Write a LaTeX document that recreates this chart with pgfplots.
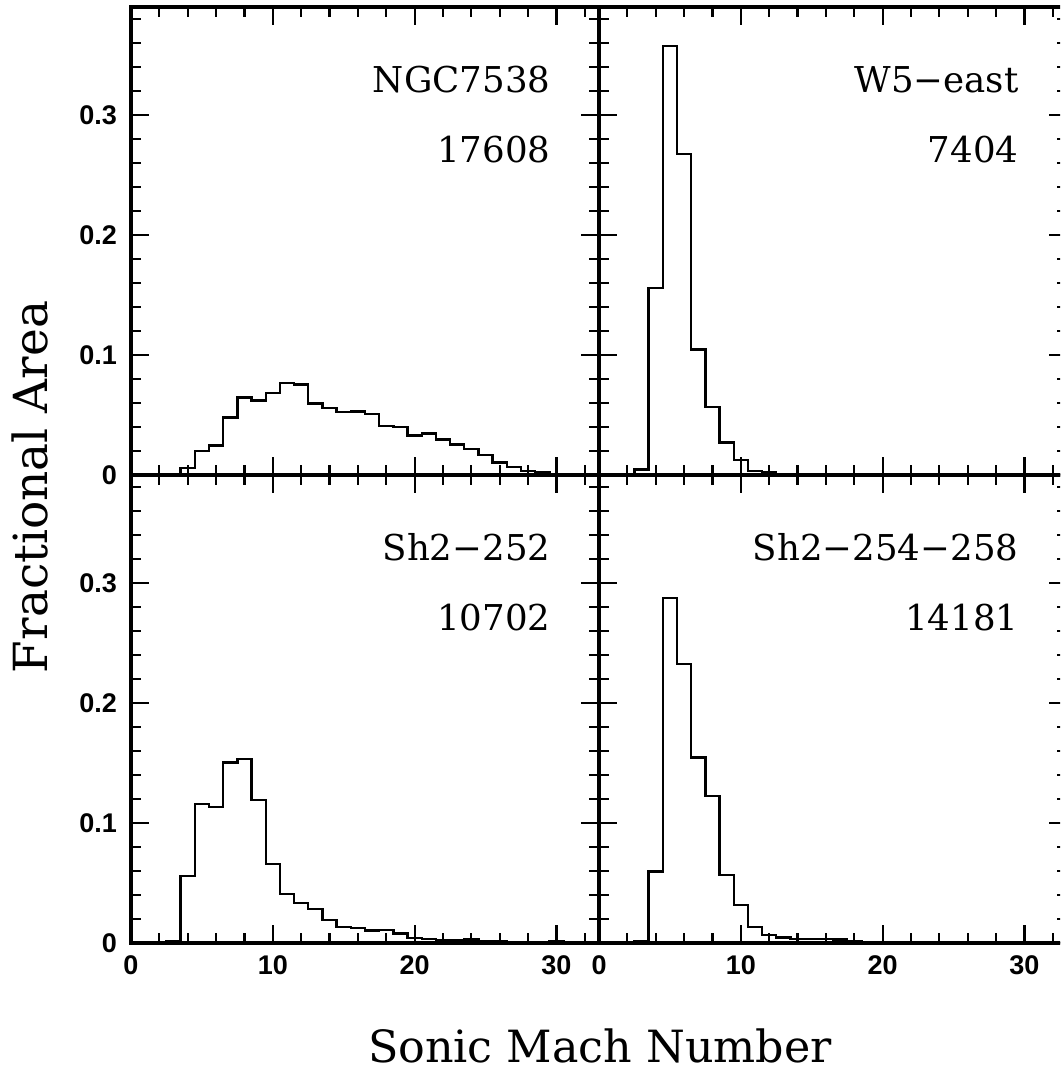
\documentclass[border=0pt]{standalone}
\usepackage{fontspec}
\setmainfont{DejaVu Serif}
\newfontfamily\tickfont{Liberation Sans}
\usepackage{pgfplots}
\pgfplotsset{compat=1.18}

\pgfplotsset{
  panel/.style={
    scale only axis, width=234pt, height=234pt,
    xmin=0, xmax=33, ymin=0, ymax=0.39,
    xtick={0,10,20,30}, minor xtick={2,4,6,8,12,14,16,18,22,24,26,28,32},
    ytick={0,0.1,0.2,0.3},
    minor ytick={0.02,0.04,0.06,0.08,0.12,0.14,0.16,0.18,0.22,0.24,0.26,0.28,0.32,0.34,0.36,0.38},
    tick align=inside, major tick length=9pt, minor tick length=5pt,
    every tick/.style={black, line width=1.1pt},
    axis line style={line width=1.6pt},
    tick label style={font=\tickfont\bfseries\fontsize{13.5}{15}\selectfont},
    /pgf/number format/assume math mode=true,
    xticklabel style={yshift=-3pt},
    yticklabel style={xshift=-3.5pt},
    anchor=south west,
  },
  hist/.style={const plot, black, line width=1.15pt, mark=none},
}
\tikzset{lab/.style={anchor=base east, inner sep=0pt, font=\fontsize{17.8}{20}\selectfont}}

\begin{document}
\begin{tikzpicture}
\useasboundingbox (0,0) rectangle (530pt,535pt);
\clip (0,0) rectangle (530pt,535pt);

% top left: NGC7538
\begin{axis}[panel, at={(65.5pt,297.5pt)}, xticklabels={}]
\addplot[hist] coordinates {
(2.5,0) (3.5,0.0056) (4.5,0.020) (5.5,0.0247) (6.5,0.048) (7.5,0.0647)
(8.5,0.062) (9.5,0.0683) (10.5,0.0764) (11.5,0.0753) (12.5,0.0597)
(13.5,0.0556) (14.5,0.0525) (15.5,0.0528) (16.5,0.0508) (17.5,0.0408)
(18.5,0.040) (19.5,0.0328) (20.5,0.0347) (21.5,0.0297) (22.5,0.0253)
(23.5,0.0214) (24.5,0.0164) (25.5,0.0103) (26.5,0.0069) (27.5,0.0033)
(28.5,0.002) (29.5,0.001) (30.5,0.0005) (31.5,0.0003) (32.5,0.0002) (33,0.0002)};
\node[lab] at (axis cs:29.6,0.319) {NGC7538};
\node[lab] at (axis cs:29.6,0.26) {17608};
\end{axis}

% top right: W5-east
\begin{axis}[panel, at={(299.5pt,297.5pt)}, xticklabels={}, yticklabels={}]
\addplot[hist] coordinates {
(1.5,0) (2.5,0.0047) (3.5,0.1556) (4.5,0.3575) (5.5,0.2675) (6.5,0.1047)
(7.5,0.0564) (8.5,0.0272) (9.5,0.0125) (10.5,0.0033) (11.5,0.0022)
(12.5,0.001) (13.5,0.0007) (14.5,0.0005) (15.5,0.0004) (16.5,0.0003)
(17.5,0.0002) (18.5,0.0002) (19.5,0.0001) (20.5,0.0001) (33,0.0001)};
\node[lab] at (axis cs:29.6,0.319) {W5−east};
\node[lab] at (axis cs:29.6,0.26) {7404};
\end{axis}

% bottom left: Sh2-252
\begin{axis}[panel, at={(65.5pt,63.5pt)}]
\addplot[hist] coordinates {
(1.5,0) (2.5,0.0017) (3.5,0.0561) (4.5,0.1156) (5.5,0.1136) (6.5,0.1503)
(7.5,0.1533) (8.5,0.1192) (9.5,0.0658) (10.5,0.0408) (11.5,0.0331)
(12.5,0.0283) (13.5,0.0194) (14.5,0.0133) (15.5,0.0125) (16.5,0.0103)
(17.5,0.0108) (18.5,0.0078) (19.5,0.0042) (20.5,0.0033) (21.5,0.0025)
(22.5,0.0025) (23.5,0.003) (24.5,0.0017) (25.5,0.0012) (26.5,0.001)
(27.5,0.0008) (28.5,0.0008) (29.5,0.0012) (30.5,0.0008) (31.5,0.0005) (32.5,0.0004) (33,0.0004)};
\node[lab] at (axis cs:29.6,0.319) {Sh2−252};
\node[lab] at (axis cs:29.6,0.26) {10702};
\end{axis}

% bottom right: Sh2-254-258
\begin{axis}[panel, at={(299.5pt,63.5pt)}, yticklabels={}]
\addplot[hist] coordinates {
(1.5,0) (2.5,0.0014) (3.5,0.0597) (4.5,0.2875) (5.5,0.2325) (6.5,0.1547)
(7.5,0.1225) (8.5,0.0569) (9.5,0.0317) (10.5,0.0136) (11.5,0.0067)
(12.5,0.0047) (13.5,0.0036) (14.5,0.0036) (15.5,0.0036) (16.5,0.0028)
(17.5,0.0014) (18.5,0.001) (19.5,0.0008) (20.5,0.0006) (21.5,0.0004)
(22.5,0.0003) (23.5,0.0002) (25.5,0.0001) (33,0.0001)};
\node[lab] at (axis cs:29.6,0.319) {Sh2−254−258};
\node[lab] at (axis cs:29.6,0.26) {14181};
\end{axis}

\node[anchor=base, font=\fontsize{22.2}{26}\selectfont] at (300pt,4pt) {Sonic Mach Number};
\node[anchor=base, rotate=90, font=\fontsize{23.5}{26}\selectfont] at (24pt,291.5pt) {Fractional Area};
\end{tikzpicture}
\end{document}
